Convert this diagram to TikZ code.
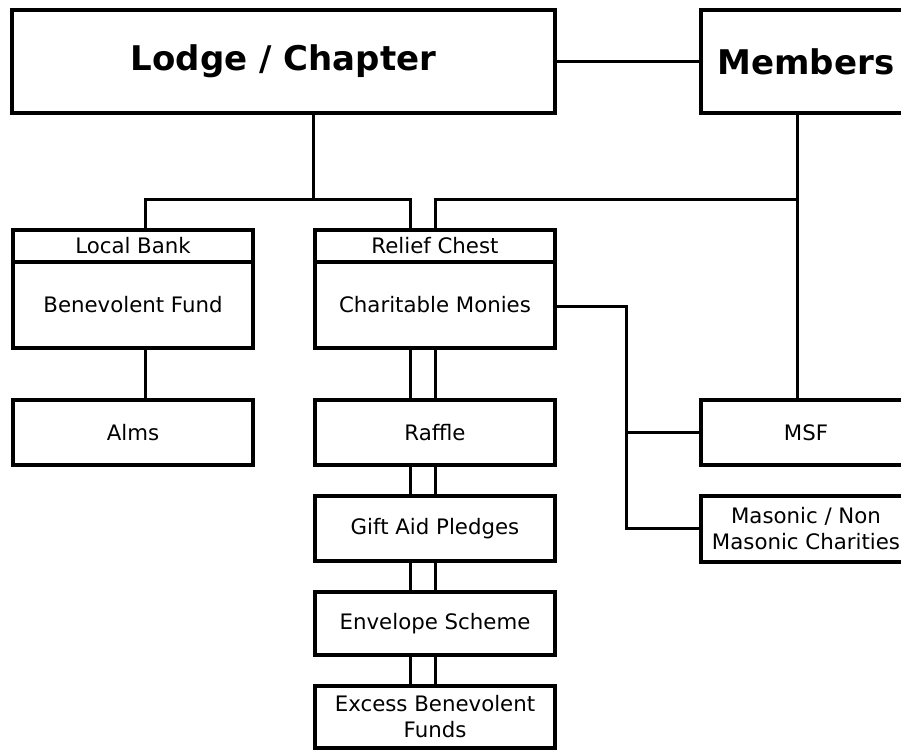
\documentclass[tikz,border=0pt]{standalone}
\usepackage{fontspec}
\setmainfont{DejaVu Sans}
\begin{document}
\begin{tikzpicture}[x=1pt,y=-1pt,
  box/.style={draw=black,line width=4pt,inner sep=0pt,align=center,
    font=\fontsize{21.3}{26.5}\selectfont},
  bigbox/.style={box,font=\fontsize{34}{40}\selectfont\bfseries},
  conn/.style={draw=black,line width=3pt}]
\useasboundingbox (0,0) rectangle (901,751);
\clip (0,0) rectangle (901,751);
\fill[white] (0,0) rectangle (901,751);
% top boxes
\node[bigbox,minimum width=543,minimum height=103] (lodge) at (283.5,61.5) {Lodge / Chapter};
\node[bigbox,minimum width=211,minimum height=103] (members) at (806,61.5) {Members};
% left column
\node[box,minimum width=240.5,minimum height=32] (bankh) at (133,246) {Local Bank};
\node[box,minimum width=240.5,minimum height=86] (bankb) at (133,305) {Benevolent Fund};
\node[box,minimum width=240.5,minimum height=65] (alms) at (133,432.5) {Alms};
% middle column
\node[box,minimum width=240,minimum height=32] (reliefh) at (435,246) {Relief Chest};
\node[box,minimum width=240,minimum height=86] (reliefb) at (435,305) {Charitable Monies};
\node[box,minimum width=240,minimum height=65] (raffle) at (435,432.5) {Raffle};
\node[box,minimum width=240,minimum height=64.5] (gift) at (435,528.5) {Gift Aid Pledges};
\node[box,minimum width=240,minimum height=62.5] (envelope) at (435,623.3) {Envelope Scheme};
\node[box,minimum width=240,minimum height=62.5] (excess) at (435,716.8) {Excess Benevolent\\Funds};
% right column
\node[box,minimum width=211,minimum height=65] (msf) at (806,432.5) {MSF};
\node[box,minimum width=211,minimum height=66] (masonic) at (806,528.5) {Masonic / Non\\Masonic Charities};
% junction coordinates
\coordinate (lj) at (313,200);
\coordinate (mj) at (797,200);
\coordinate (la) at (145,200);
\coordinate (ra) at (410,200);
\coordinate (rb) at (435,200);
\coordinate (cj) at (626,306);
% connectors
\draw[conn] (lodge.east) -- (members.west);
\draw[conn] (lodge.south -| lj) -- (lj);
\draw[conn] (bankh.north -| la) |- (ra) -- (reliefh.north -| ra);
\draw[conn] (msf.north -| mj) -- (members.south -| mj);
\draw[conn] (mj) -| (reliefh.north -| rb);
\draw[conn] (bankb.south -| la) -- (alms.north -| la);
\foreach \a/\b in {reliefb/raffle,raffle/gift,gift/envelope,envelope/excess}{
  \draw[conn] (\a.south -| ra) -- (\b.north -| ra);
  \draw[conn] (\a.south -| rb) -- (\b.north -| rb);
}
\draw[conn] (reliefb.east |- cj) -- (cj) |- (masonic.west);
\draw[conn] (msf.west) -- (msf.west -| cj);
\end{tikzpicture}
\end{document}
